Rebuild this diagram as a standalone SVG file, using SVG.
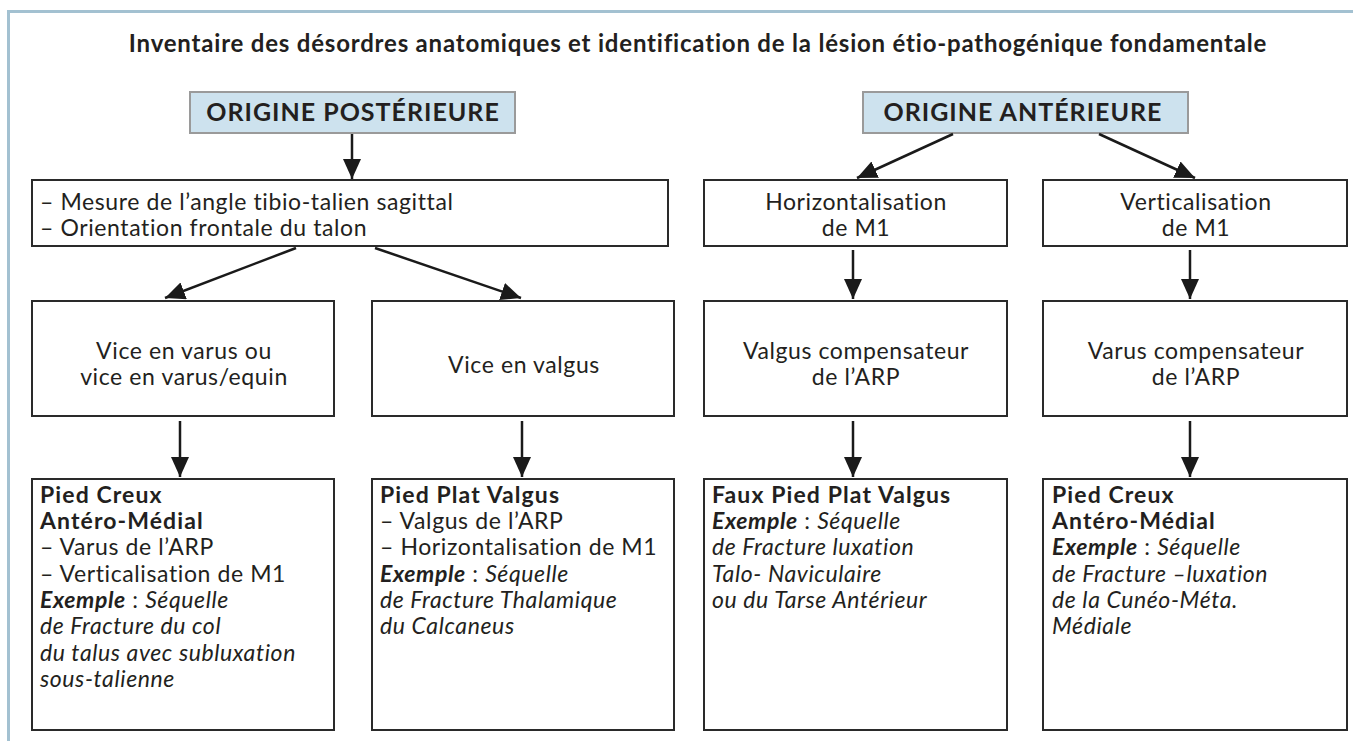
<svg xmlns="http://www.w3.org/2000/svg" width="1353" height="741" viewBox="0 0 1353 741">
<defs>
<marker id="ah" viewBox="0 0 20 18" refX="20" refY="9" markerWidth="20" markerHeight="18" markerUnits="userSpaceOnUse" orient="auto">
<path d="M0,0 L20,9 L0,18 z" fill="#1a1a1a"/>
</marker>
<style>
text{font-family:Lato,"Open Sans","Liberation Sans",sans-serif;fill:#231f20;font-size:23px;letter-spacing:0.6px}
.box{fill:#fff;stroke:#2a2a2a;stroke-width:2}
.hdr{fill:#cde2ee;stroke:#9a9a9a;stroke-width:2}
.h{font-weight:bold;font-size:25px;letter-spacing:1px}
.t{font-weight:bold;font-size:24px;letter-spacing:0.8px}
.b{font-weight:bold;font-size:23px;letter-spacing:1.1px}
.bi{font-weight:bold;font-style:italic}
.i{font-style:italic}
.c{text-anchor:middle}
.cn line{stroke:#1a1a1a;stroke-width:2.5;marker-end:url(#ah)}
</style>
</defs>
<rect width="1353" height="741" fill="#fff"/>
<path d="M8.5,741 L8.5,11.5 L1353,11.5" fill="none" stroke="#a3c1d1" stroke-width="3"/>
<text id="title" class="t c" x="698" y="52">Inventaire des désordres anatomiques et identification de la lésion étio-pathogénique fondamentale</text>

<g id="n-post"><rect class="hdr" x="190" y="92" width="325" height="41"/><text class="h c" x="353" y="121">ORIGINE POSTÉRIEURE</text></g>
<g id="n-ant"><rect class="hdr" x="863" y="92" width="325" height="41"/><text class="h c" x="1023" y="121">ORIGINE ANTÉRIEURE</text></g>

<g id="n-mesure"><rect class="box" x="32" y="180" width="636" height="66"/>
<text x="40" y="210">– Mesure de l’angle tibio-talien sagittal</text>
<text x="40" y="236">– Orientation frontale du talon</text></g>
<g id="n-horiz"><rect class="box" x="704" y="180" width="303" height="66"/>
<text class="c" x="856" y="210">Horizontalisation</text><text class="c" x="856" y="236">de M1</text></g>
<g id="n-vert"><rect class="box" x="1043" y="180" width="304" height="66"/>
<text class="c" x="1196" y="210">Verticalisation</text><text class="c" x="1196" y="236">de M1</text></g>

<g id="n-varus"><rect class="box" x="32" y="301" width="302" height="115"/>
<text class="c" x="184" y="359">Vice en varus ou</text><text class="c" x="184" y="385">vice en varus/equin</text></g>
<g id="n-valgus"><rect class="box" x="372" y="301" width="302" height="115"/>
<text class="c" x="524" y="373">Vice en valgus</text></g>
<g id="n-valgcomp"><rect class="box" x="704" y="301" width="303" height="115"/>
<text class="c" x="856" y="359">Valgus compensateur</text><text class="c" x="856" y="385">de l’ARP</text></g>
<g id="n-varcomp"><rect class="box" x="1043" y="301" width="304" height="115"/>
<text class="c" x="1196" y="359">Varus compensateur</text><text class="c" x="1196" y="385">de l’ARP</text></g>

<g id="n-pca1"><rect class="box" x="32" y="479" width="302" height="251"/>
<text class="b" x="40" y="503">Pied Creux</text>
<text class="b" x="40" y="529">Antéro-Médial</text>
<text x="40" y="555">– Varus de l’ARP</text>
<text x="40" y="582">– Verticalisation de M1</text>
<text x="40" y="608"><tspan class="bi">Exemple</tspan> : <tspan class="i">Séquelle</tspan></text>
<text class="i" x="40" y="634">de Fracture du col</text>
<text class="i" x="40" y="661">du talus avec subluxation</text>
<text class="i" x="40" y="687">sous-talienne</text></g>
<g id="n-ppv"><rect class="box" x="372" y="479" width="302" height="251"/>
<text class="b" x="380" y="503">Pied Plat Valgus</text>
<text x="380" y="529">– Valgus de l’ARP</text>
<text x="380" y="555">– Horizontalisation de M1</text>
<text x="380" y="582"><tspan class="bi">Exemple</tspan> : <tspan class="i">Séquelle</tspan></text>
<text class="i" x="380" y="608">de Fracture Thalamique</text>
<text class="i" x="380" y="634">du Calcaneus</text></g>
<g id="n-fppv"><rect class="box" x="704" y="479" width="303" height="251"/>
<text class="b" x="712" y="503">Faux Pied Plat Valgus</text>
<text x="712" y="529"><tspan class="bi">Exemple</tspan> : <tspan class="i">Séquelle</tspan></text>
<text class="i" x="712" y="555">de Fracture luxation</text>
<text class="i" x="712" y="582">Talo- Naviculaire</text>
<text class="i" x="712" y="608">ou du Tarse Antérieur</text></g>
<g id="n-pca2"><rect class="box" x="1043" y="479" width="304" height="251"/>
<text class="b" x="1052" y="503">Pied Creux</text>
<text class="b" x="1052" y="529">Antéro-Médial</text>
<text x="1052" y="555"><tspan class="bi">Exemple</tspan> : <tspan class="i">Séquelle</tspan></text>
<text class="i" x="1052" y="582">de Fracture –luxation</text>
<text class="i" x="1052" y="608">de la Cunéo-Méta.</text>
<text class="i" x="1052" y="634">Médiale</text></g>

<g id="connectors" class="cn">
<line x1="352" y1="134" x2="352" y2="179"/>
<line x1="296" y1="248" x2="165" y2="298"/>
<line x1="375" y1="248" x2="521" y2="298"/>
<line x1="953" y1="134" x2="857" y2="178"/>
<line x1="1099" y1="134" x2="1195" y2="178"/>
<line x1="853" y1="250" x2="853" y2="299"/>
<line x1="1190" y1="250" x2="1190" y2="299"/>
<line x1="180" y1="421" x2="180" y2="477"/>
<line x1="522" y1="421" x2="522" y2="477"/>
<line x1="853" y1="421" x2="853" y2="477"/>
<line x1="1190" y1="421" x2="1190" y2="477"/>
</g>
</svg>
